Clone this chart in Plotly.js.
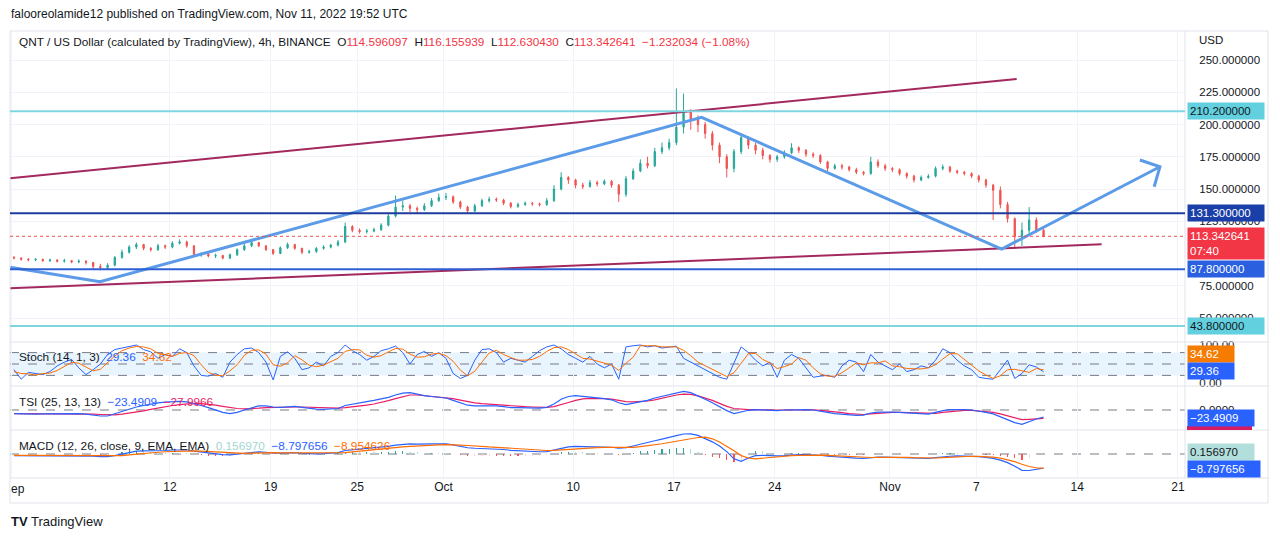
<!DOCTYPE html>
<html>
<head>
<meta charset="utf-8">
<script src="https://cdn.plot.ly/plotly-3.0.1.min.js"></script>
<style>html,body{margin:0;padding:0;background:#fff;}#chart{width:1280px;height:538px;}</style>
</head>
<body>
<div id="chart"></div>
<script>
// ---------------- DATA (12h candles) ----------------
const candleOpen = [97,96.5,95.5,95,95.5,94.5,95,94,94.5,93.5,
94,93,90,89,91,97,101,105,107,104,
103,106,105,108,109,106,99,99.5,98,98.5,
96.5,99,103,106,108.5,106,103,100,104.5,107,
104,101,101.5,104,105,106.5,109,121,118,117,
117.5,118.5,122,129,136,137,135,134,137,141,
143.5,144,140,136,133,137,141,142,141.5,139,
136.5,138,139,138.5,138,141,150,159,157,153,
152,155,154,156,153,146,158,164,170,168,
179,182,186,198,210,204,200,193,184,175,
166,179,190,184,180,176,173,175,178,182,
180,177,176,171,166,168,167,165,163,162,
171,168,166,165,162,160,157,159,160,166,
167,164,163,162,160,157,153,149,138,127,
113,118,126,118];
const candleHigh = [98,97,96.5,96.5,96,96,95.5,96,95,95.5,
95,93.5,92,92.5,98,103,106.5,108.5,107.5,105,
107.5,107,109.5,111,110,106.5,101,100.5,100,99,
100,104,107.5,110.5,109,106.5,103.5,105.5,108.5,107.5,
104.5,103,105,106.5,107.5,110.5,124,122,119.5,119,
120,123.5,131,145,141,138.5,136.5,139,143,146.5,
147,145,141,137,138.5,142.5,144,143.5,142.5,140,
139.5,140.5,140,139.5,143,153,163,160,158,155,
157,156.5,157.5,157,154,160,166,173,175,182,
186,189,228,224,212,207,202,195,186,177,
181,193,191,186,182,177,176.5,180,185.5,183,
181,178.5,177,172,169.5,169.5,168,166.5,164,175,
173,169.5,167,166,163,161,160.5,161.5,167.5,169,
168,165,164,163,161,158,154,152,140,128,
124,136,128,121];
const candleLow = [95.5,94.5,94,94,93.5,93.5,93,93,92.5,92.5,
91.5,88,87,88,90,96,100,103.5,102.5,101.5,
102,103.5,104,107,104.5,98,97.5,97,96.5,95.5,
95.5,98,102,105,105,102,99,99.5,103.5,103,
99.5,100,100.5,103,104,105.5,108,116.5,115.5,115.5,
116.5,117.5,121,128,133,132,131,133,136,140,
141.5,138.5,134.5,131,132,136,139.5,140,137.5,135,
135.5,137,137,136.5,137,140,149,154,150.5,150,
151,152,153,151,140,144,157,163,166,167,
177,180,184,193,196,194,189,180,170,159,
163,177,181,177,173,170.5,171,173.5,177,178,
175,174,169.5,164,165,165,163.5,161.5,160.5,161,
166.5,164,163,160.5,158,155,156,158,159,164.5,
162.5,161.5,160.5,158.5,155,151,126,135,124,105,
106,115,116,112.6];
const candleClose = [96.5,95.5,95,95.5,94.5,95,94,94.5,93.5,94,
93,90,89,91,97,101,105,107,104,103,
106,105,108,109,106,99,99.5,98,98.5,96.5,
99,103,106,108.5,106,103,100,104.5,107,104,
101,101.5,104,105,106.5,109,121,118,117,117.5,
118.5,122,129,136,137,135,134,137,141,143.5,
144,140,136,133,137,141,142,141.5,139,136.5,
138,139,138.5,138,141,150,159,157,153,152,
155,154,156,153,146,158,164,170,168,179,
182,186,198,210,204,200,193,184,175,166,
179,190,184,180,176,173,175,178,182,180,
177,176,171,166,168,167,165,163,162,171,
168,166,165,162,160,157,159,160,166,167,
164,163,162,160,157,153,149,138,127,113,
118,126,118,113.342641];

const stochK = [35,10,28,25,22,30,45,55,62,40,
22,35,50,75,88,92,97,100,88,82,
65,75,70,90,80,45,20,18,25,15,
55,75,90,92,80,55,8,70,82,65,
35,40,55,45,70,80,100,85,75,60,
70,85,90,97,80,50,75,83,70,80,
65,25,12,20,60,88,90,80,55,65,
60,55,70,85,95,100,90,75,65,55,
70,50,40,50,10,95,98,100,95,98,
92,95,97,65,55,45,35,25,15,10,
55,95,80,60,45,55,15,60,75,65,
40,15,18,20,15,45,60,55,30,75,
55,45,35,50,30,35,45,40,60,90,
80,60,45,35,15,12,10,35,60,12,
25,48,42,29.36];
const stochD = [30,25,24,21,25,26,33,43,54,52,
41,32,36,53,71,85,92,96,95,90,
78,74,70,78,80,72,48,28,21,19,
32,48,73,86,87,76,48,44,53,72,
61,47,43,47,57,65,83,88,87,73,
68,72,82,91,89,76,68,69,76,78,
72,57,34,19,31,56,79,86,75,67,
60,60,62,70,83,93,95,88,77,65,
63,58,53,47,33,52,68,98,98,98,
95,95,95,86,72,55,45,35,25,17,
27,53,77,78,62,53,38,43,50,67,
60,40,24,18,18,27,40,53,48,53,
53,58,45,43,38,38,37,40,48,63,
77,77,62,47,32,21,12,19,35,36,
32,28,38,34.62];

const tsiLine = [-12,-13,-14,-14,-13,-13,-12,-11,-11,-12,
-14,-17,-20,-20,-12,-5,3,10,15,20,
24,26,28,29,27,22,15,8,0,-8,
-12,-8,0,8,14,14,10,9,11,12,
9,5,3,2,3,5,15,20,24,28,
32,36,42,50,56,58,52,48,45,43,
40,32,24,16,14,14,15,14,11,8,
8,8,7,6,9,20,36,45,48,46,
44,40,38,34,24,18,22,28,32,40,
46,52,58,62,58,48,36,24,10,-2,
-12,-6,-1,1,0,-1,-2,0,1,2,
1,0,-3,-8,-12,-14,-16,-18,-17,-10,
-7,-6,-7,-8,-9,-11,-13,-14,-8,-2,
1,2,1,0,-3,-8,-13,-22,-32,-42,
-48,-38,-30,-23.4909];
const tsiSignal = [-12,-12,-13,-13,-13,-13,-13,-12,-12,-12,
-13,-14,-15,-16,-16,-14,-11,-7,-3,2,
7,11,15,18,21,22,21,19,16,12,
8,5,4,4,6,8,9,9,9,10,
10,9,8,7,6,6,8,10,13,16,
20,25,31,38,45,50,50,48,46,44,
42,38,33,28,24,21,19,17,15,13,
12,11,10,9,9,11,17,25,32,37,
39,39,38,36,32,28,27,28,30,34,
40,45,50,53,52,47,40,32,22,12,
5,2,1,1,0,0,0,0,0.5,1,
1,0.5,-1,-3,-6,-9,-12,-14,-15,-13,
-11,-9,-8,-8,-9,-10,-11,-12,-11,-8,
-5,-2,-1,-1,-3,-5,-8,-13,-19,-26,
-32,-31,-29,-27.9966];

const macdLine = [-1.0,-1.0,-1.1,-1.0,-1.0,-0.9,-0.9,-0.9,-0.9,-0.9,-1.0,-1.3,
-1.6,-1.6,-1.0,0.0,1.0,1.8,2.0,2.0,2.2,2.2,2.5,2.7,
2.5,1.8,1.2,0.6,0.2,-0.4,-0.5,-0.1,0.5,1.1,1.3,1.1,
0.6,0.6,0.9,0.8,0.4,0.1,0.1,0.2,0.5,0.9,2.2,2.8,
3.0,3.5,3.8,4.2,4.8,5.6,6.1,6.3,6.2,6.1,6.3,6.4,
6.3,5.7,4.9,3.9,3.6,3.5,3.4,3.2,2.8,2.3,2.0,1.8,
1.6,1.4,1.5,2.4,3.7,4.5,4.8,4.7,4.7,4.5,4.4,4.2,
3.6,4.0,5.0,6.2,7.0,8.3,9.3,10.2,11.5,12.5,12.6,11.6,
9.8,7.6,5.0,1.5,-3.0,-4.6,-2.5,-1.0,-0.8,-1.1,-1.2,-1.0,
-0.6,-0.4,-0.4,-0.4,-0.8,-1.4,-1.8,-2.0,-2.3,-2.6,-2.8,-2.2,
-2.0,-1.9,-2.0,-2.1,-2.3,-2.6,-2.8,-2.8,-2.3,-1.7,-1.4,-1.2,
-1.2,-1.3,-1.6,-2.1,-2.7,-3.8,-5.4,-7.6,-10.2,-10.3,-9.5,-8.797656];
const macdSignal = [-0.9,-0.9,-1.0,-1.0,-1.0,-1.0,-0.9,-0.9,-0.9,-0.9,-0.9,-1.0,
-1.1,-1.2,-1.2,-1.0,-0.6,-0.1,0.4,0.8,1.1,1.4,1.6,1.9,
2.0,2.0,1.8,1.6,1.3,0.9,0.6,0.4,0.4,0.5,0.7,0.8,
0.8,0.7,0.7,0.8,0.7,0.6,0.5,0.4,0.4,0.5,0.8,1.3,
1.8,2.2,2.6,3.0,3.4,3.9,4.4,4.8,5.1,5.3,5.5,5.7,
5.8,5.8,5.6,5.3,4.9,4.6,4.4,4.2,3.9,3.6,3.3,3.0,
2.7,2.4,2.2,2.3,2.6,3.0,3.4,3.7,3.9,4.0,4.1,4.1,
4.0,4.0,4.2,4.6,5.1,5.7,6.4,7.2,8.0,8.9,9.7,10.3,
10.5,9.5,7.5,5.0,2.0,-1.0,-2.5,-3.0,-2.6,-2.0,-1.5,-1.2,
-1.0,-0.8,-0.7,-0.6,-0.7,-0.9,-1.1,-1.4,-1.7,-2.0,-2.2,-2.2,
-2.1,-2.0,-2.0,-2.0,-2.1,-2.3,-2.5,-2.6,-2.5,-2.3,-2.0,-1.7,
-1.5,-1.4,-1.5,-1.7,-2.0,-2.6,-3.5,-4.8,-6.4,-7.8,-8.6,-8.954626];
const macdHist = [-0.1,-0.1,-0.1,0.0,0.0,0.1,0.0,0.0,0.0,0.0,-0.1,-0.3,
-0.5,-0.4,0.2,1.0,1.6,1.9,1.6,1.2,1.1,0.8,0.9,0.8,
0.5,-0.2,-0.6,-1.0,-1.1,-1.3,-1.1,-0.5,0.1,0.6,0.6,0.3,
-0.2,-0.1,0.2,0.0,-0.3,-0.5,-0.4,-0.2,0.1,0.4,1.4,1.5,
1.2,1.3,1.2,1.2,1.4,1.7,1.7,1.5,1.1,0.8,0.8,0.7,
0.5,-0.1,-0.7,-1.4,-1.3,-1.1,-1.0,-1.0,-1.1,-1.3,-1.3,-1.2,
-1.1,-1.0,-0.7,0.1,1.1,1.5,1.4,1.0,0.8,0.5,0.3,0.1,
-0.4,0.0,0.8,1.6,1.9,2.6,2.9,3.0,3.5,3.6,2.9,1.3,
-0.7,-1.9,-2.5,-3.5,-5.0,-3.6,0.0,2.0,1.8,0.9,0.3,0.2,
0.4,0.4,0.3,0.2,-0.1,-0.5,-0.7,-0.6,-0.6,-0.6,-0.6,0.0,
0.1,0.1,0.0,-0.1,-0.2,-0.3,-0.3,-0.2,0.2,0.6,0.6,0.5,
0.3,0.1,-0.1,-0.4,-0.7,-1.2,-1.9,-2.8,-3.8,-2.5,-0.9,0.15697];

// drawings
const upperChannelTimes = ['2022-08-31 21:22', '2022-11-09 19:12'];
const upperChannelPrices = [158.3, 235.3];
const lowerChannelTimes = ['2022-08-31 21:22', '2022-11-15 16:48'];
const lowerChannelPrices = [73.0, 107.1];
const zigzagTimes = ['2022-08-31 21:22', '2022-09-07 03:22', '2022-10-18 22:05', '2022-11-08 18:14', '2022-11-19 18:00'];
const zigzagPrices = [89.3, 78.1, 205.6, 103.5, 167.3];
const arrowTimes = ['2022-11-18 08:38', '2022-11-19 18:00', '2022-11-19 08:24'];
const arrowPrices = [172.5, 167.3, 151.8];
const levelPrices = [210.2, 131.3, 87.8, 43.8];
const lastPrice = 113.342641;
const countdown = '07:40';

// legend values
const legendOHLC = ['114.596097', '116.155939', '112.630430', '113.342641'];
const legendChange = '\u22121.232034 (\u22121.08%)';
const stochLegend = ['29.36', '34.62'];
const tsiLegend = ['\u221223.4909', '\u221227.9966'];
const macdLegend = ['0.156970', '\u22128.797656', '\u22128.954626'];

// ticks (100.000000 is fully hidden behind the price label in the reference)
const priceTickVals = [50, 75, 125, 150, 175, 200, 225, 250];
const timeTickVals = ['2022-09-01', '2022-09-12', '2022-09-19', '2022-09-25', '2022-10-01', '2022-10-10', '2022-10-17', '2022-10-24', '2022-11-01', '2022-11-07', '2022-11-14', '2022-11-21'];
const timeTickText = [' ', '12', '19', '25', 'Oct', '10', '17', '24', 'Nov', '7', '14', '21'];

// ---------------- build ----------------
const T0 = Date.UTC(2022, 8, 1, 4, 0);
const STEP = 12 * 3600 * 1000;
function fmt(ms) {
  const d = new Date(ms);
  const p = n => String(n).padStart(2, '0');
  return d.getUTCFullYear() + '-' + p(d.getUTCMonth() + 1) + '-' + p(d.getUTCDate()) + ' ' + p(d.getUTCHours()) + ':' + p(d.getUTCMinutes());
}
const times = candleClose.map((_, i) => fmt(T0 + i * STEP));

const W = 1280, H = 538;
const px = x => x / W;
const py = y => 1 - y / H;
const FONT = 'Liberation Sans, Arial, sans-serif';
const TXT = '#131722';
const BLUE = '#2962ff', ORANGE = '#ff6d00', PINK = '#e91e63';
const GRID = '#f0f3fa';
const X0 = 10, X1 = 1185;

const histColors = macdHist.map((v, i) => {
  const prev = i > 0 ? macdHist[i - 1] : 0;
  if (v >= 0) return v >= prev ? '#26a69a' : '#b2dfdb';
  return v <= prev ? '#ff5252' : '#ffcdd2';
});

const traces = [
  {type: 'candlestick', x: times, open: candleOpen, high: candleHigh, low: candleLow, close: candleClose,
   xaxis: 'x', yaxis: 'y', whiskerwidth: 0,
   increasing: {line: {color: '#26a69a', width: 1}, fillcolor: '#26a69a'},
   decreasing: {line: {color: '#ef5350', width: 1}, fillcolor: '#ef5350'}, hoverinfo: 'skip'},
  {type: 'scatter', mode: 'lines', x: upperChannelTimes, y: upperChannelPrices, line: {color: '#a3285e', width: 2}, xaxis: 'x', yaxis: 'y'},
  {type: 'scatter', mode: 'lines', x: lowerChannelTimes, y: lowerChannelPrices, line: {color: '#a3285e', width: 2}, xaxis: 'x', yaxis: 'y'},
  {type: 'scatter', mode: 'lines', x: zigzagTimes, y: zigzagPrices, line: {color: '#5b9be8', width: 3}, xaxis: 'x', yaxis: 'y'},
  {type: 'scatter', mode: 'lines', x: arrowTimes, y: arrowPrices, line: {color: '#5b9be8', width: 3}, xaxis: 'x', yaxis: 'y'},
  {type: 'scatter', mode: 'lines', x: times, y: stochK, line: {color: BLUE, width: 1}, xaxis: 'x', yaxis: 'y2'},
  {type: 'scatter', mode: 'lines', x: times, y: stochD, line: {color: ORANGE, width: 1}, xaxis: 'x', yaxis: 'y2'},
  {type: 'scatter', mode: 'lines', x: times, y: tsiSignal, line: {color: PINK, width: 1.2}, xaxis: 'x', yaxis: 'y3'},
  {type: 'scatter', mode: 'lines', x: times, y: tsiLine, line: {color: BLUE, width: 1.2}, xaxis: 'x', yaxis: 'y3'},
  {type: 'bar', x: times, y: macdHist, marker: {color: histColors, line: {width: 0}}, width: STEP * 0.16, xaxis: 'x', yaxis: 'y4'},
  {type: 'scatter', mode: 'lines', x: times, y: macdLine, line: {color: BLUE, width: 1.2}, xaxis: 'x', yaxis: 'y4'},
  {type: 'scatter', mode: 'lines', x: times, y: macdSignal, line: {color: ORANGE, width: 1.2}, xaxis: 'x', yaxis: 'y4'}
];

const levelColors = ['#80d6e0', '#1c3d9e', '#2f5fd4', '#80d6e0'];
const levelLabelBg = ['#62d0de', '#1b3fa8', '#2a5fe0', '#62d0de'];
const levelLabelFg = [TXT, '#ffffff', '#ffffff', TXT];

const shapes = [];
// chart frame and pane separators
shapes.push({type: 'rect', xref: 'paper', yref: 'paper', x0: px(X0), x1: px(1268), y0: py(503), y1: py(31), line: {color: '#e0e3eb', width: 1}});
[342, 386, 430, 478].forEach(y => shapes.push({type: 'line', xref: 'paper', yref: 'paper', x0: px(X0), x1: px(1268), y0: py(y), y1: py(y), line: {color: '#e0e3eb', width: 1}}));
shapes.push({type: 'line', xref: 'paper', yref: 'paper', x0: px(X1), x1: px(X1), y0: py(478), y1: py(31), line: {color: '#e0e3eb', width: 1}});
// stoch band
shapes.push({type: 'rect', xref: 'paper', yref: 'y2', x0: px(X0), x1: px(X1), y0: 20, y1: 80, fillcolor: 'rgba(33,150,243,0.1)', line: {width: 0}, layer: 'below'});
[80, 50, 20].forEach(v => shapes.push({type: 'line', xref: 'paper', yref: 'y2', x0: px(X0), x1: px(X1), y0: v, y1: v, line: {color: '#787b86', width: 1, dash: 'dash'}, layer: 'below'}));
shapes.push({type: 'line', xref: 'paper', yref: 'y3', x0: px(X0), x1: px(X1), y0: 0, y1: 0, line: {color: '#787b86', width: 1, dash: 'dash'}, layer: 'below'});
shapes.push({type: 'line', xref: 'paper', yref: 'y4', x0: px(X0), x1: px(X1), y0: 0, y1: 0, line: {color: '#787b86', width: 1, dash: 'dash'}, layer: 'below'});
// price levels
levelPrices.forEach((v, i) => shapes.push({type: 'line', xref: 'paper', yref: 'y', x0: px(X0), x1: px(X1), y0: v, y1: v, line: {color: levelColors[i], width: 2}}));
shapes.push({type: 'line', xref: 'paper', yref: 'y', x0: px(X0), x1: px(X1), y0: lastPrice, y1: lastPrice, line: {color: '#ef5350', width: 1, dash: 'dot'}});
// hidden tsi signal label strip
shapes.push({type: 'rect', xref: 'paper', yref: 'paper', x0: px(1187), x1: px(1252), y0: py(430), y1: py(426), fillcolor: '#d81b60', line: {width: 0}});

const ann = [];
function label(text, yref, y, bg, fg, w, opts) {
  ann.push(Object.assign({xref: 'paper', x: px(1187), xanchor: 'left', yref: yref, y: y, yanchor: 'middle', text: text,
    showarrow: false, bgcolor: bg, borderpad: 2, width: w, align: 'left',
    font: {family: FONT, size: 11.5, color: fg}}, opts || {}));
}
levelPrices.forEach((v, i) => label(v.toFixed(6), 'y', v, levelLabelBg[i], levelLabelFg[i], 72));
label(lastPrice.toFixed(6) + '<br>' + countdown, 'y', lastPrice, '#f23645', '#ffffff', 72, {yanchor: 'top', yshift: 9});
label(stochLegend[1], 'paper', py(354), '#f57c00', '#ffffff', 42);
label(stochLegend[0], 'paper', py(371), BLUE, '#ffffff', 42);
label(tsiLegend[0], 'paper', py(418), BLUE, '#ffffff', 62);
label(macdLegend[0], 'paper', py(451.5), '#b2dfdb', TXT, 62);
label(macdLegend[1], 'paper', py(468.5), BLUE, '#ffffff', 68);

function text(t, x, y, size, color, anchor) {
  ann.push({xref: 'paper', yref: 'paper', x: px(x), y: py(y), xanchor: anchor || 'left', yanchor: 'middle', text: t,
    showarrow: false, font: {family: FONT, size: size, color: color || TXT}});
}
const red = s => '<span style="color:#f23645">' + s + '</span>';
text('falooreolamide12 published on TradingView.com, Nov 11, 2022 19:52 UTC', 9, 14, 12);
text('QNT / US Dollar (calculated by TradingView), 4h, BINANCE  O' + red(legendOHLC[0]) + '  H' + red(legendOHLC[1]) +
     '  L' + red(legendOHLC[2]) + '  C' + red(legendOHLC[3]) + '  ' + red(legendChange), 17, 42, 11.8);
text('Stoch (14, 1, 3)  <span style="color:' + BLUE + '">' + stochLegend[0] + '</span>  <span style="color:' + ORANGE + '">' + stochLegend[1] + '</span>', 17, 357.5, 11.8);
text('TSI (25, 13, 13)  <span style="color:' + BLUE + '">' + tsiLegend[0] + '</span>  <span style="color:' + PINK + '">' + tsiLegend[1] + '</span>', 17, 401.5, 11.8);
text('MACD (12, 26, close, 9, EMA, EMA)  <span style="color:#9fd8d0">' + macdLegend[0] + '</span>  <span style="color:' + BLUE + '">' + macdLegend[1] +
     '</span>  <span style="color:' + ORANGE + '">' + macdLegend[2] + '</span>', 17, 446, 11.8);
text('USD', 1197, 40, 11.5);
text('ep', 9, 489, 12);
text('<b>TV</b> TradingView', 9, 521, 13);

const layout = {
  width: W, height: H, margin: {l: 0, r: 0, t: 0, b: 0}, paper_bgcolor: '#ffffff', plot_bgcolor: '#ffffff',
  showlegend: false, hovermode: false, boxgap: 0.82, boxgroupgap: 0, bargap: 0,
  font: {family: FONT, color: TXT, size: 12},
  xaxis: {type: 'date', domain: [px(X0), px(X1)], anchor: 'y4', range: ['2022-08-31 21:22', '2022-11-21 11:45'],
          tickvals: timeTickVals, ticktext: timeTickText, showgrid: true, gridcolor: GRID, zeroline: false, showline: false,
          ticks: '', tickfont: {size: 12, color: TXT}, rangeslider: {visible: false}, fixedrange: true},
  yaxis: {domain: [py(341), py(31)], range: [32.2, 272.5], side: 'right', anchor: 'x', tickvals: priceTickVals,
          ticktext: priceTickVals.map(v => v.toFixed(6)), showgrid: true, gridcolor: GRID, zeroline: false, showline: false,
          ticks: 'outside', ticklen: 11, tickcolor: 'rgba(0,0,0,0)', tickfont: {size: 11.5, color: TXT}, automargin: false},
  yaxis2: {domain: [py(386), py(342)], range: [-7.9, 107.9], side: 'right', anchor: 'x', tickvals: [0, 100], ticktext: ['0.00', '100.00'],
           showgrid: false, zeroline: false, ticks: 'outside', ticklen: 11, tickcolor: 'rgba(0,0,0,0)', tickfont: {size: 11.5, color: TXT}, automargin: false},
  yaxis3: {domain: [py(430), py(386)], range: [-66.7, 80], side: 'right', anchor: 'x', tickvals: [0], ticktext: ['0.0000'],
           showgrid: false, zeroline: false, ticks: 'outside', ticklen: 11, tickcolor: 'rgba(0,0,0,0)', tickfont: {size: 11.5, color: TXT}, automargin: false},
  yaxis4: {domain: [py(478), py(430)], range: [-15, 15], side: 'right', anchor: 'x', tickvals: [], showgrid: false, zeroline: false, automargin: false},
  shapes: shapes, annotations: ann
};

Plotly.newPlot('chart', traces, layout, {staticPlot: true, displayModeBar: false});
</script>
</body>
</html>
